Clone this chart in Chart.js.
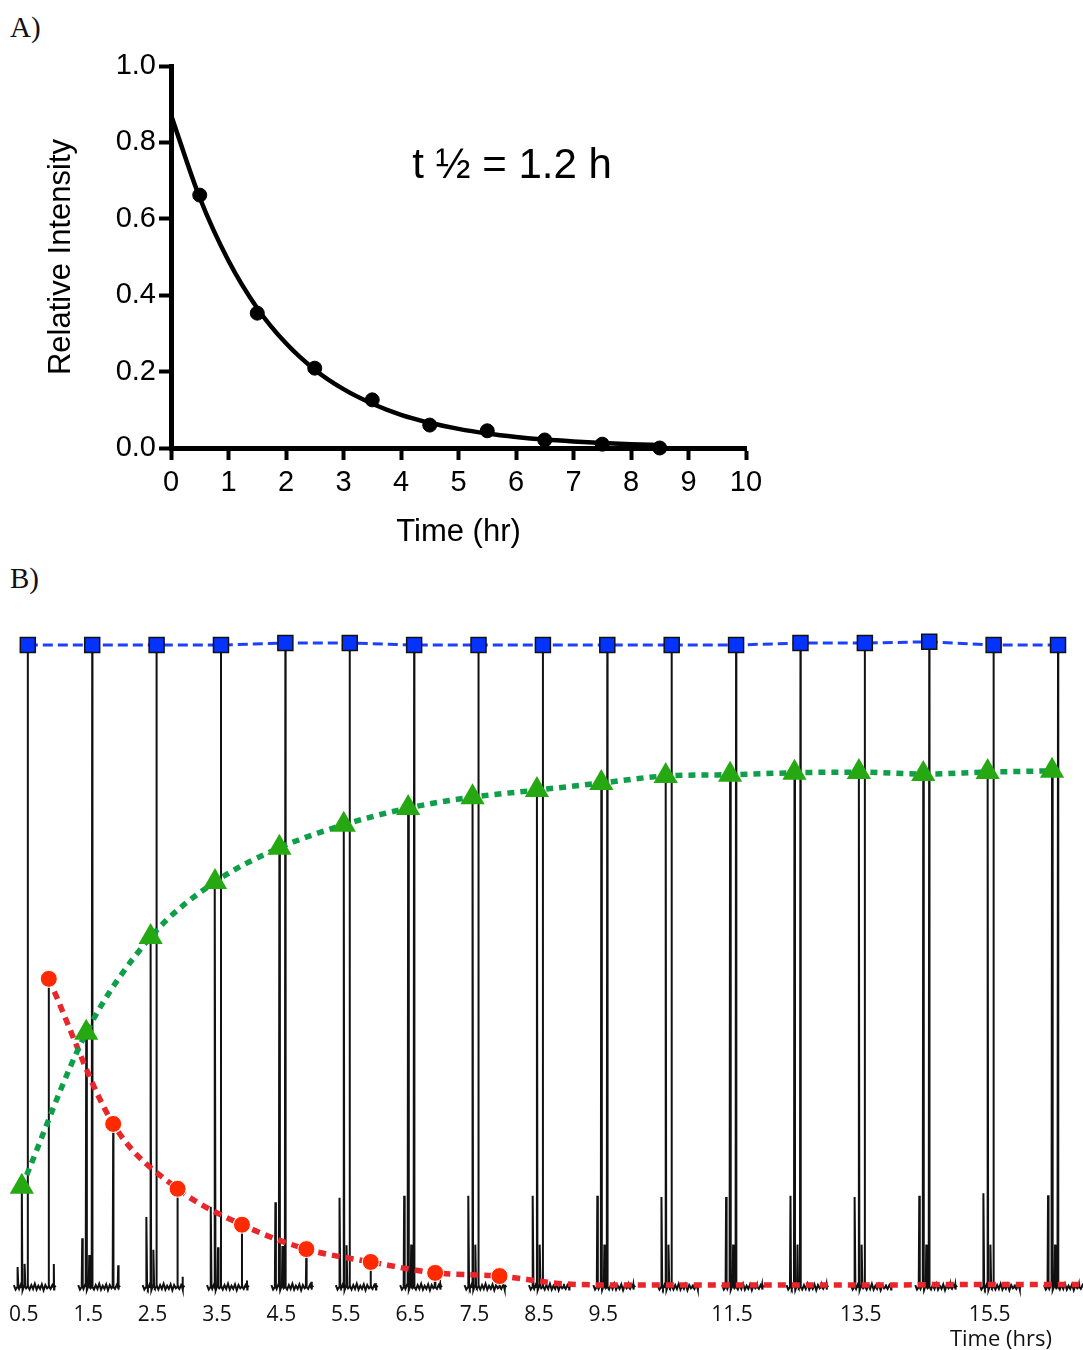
<!DOCTYPE html>
<html>
<head>
<meta charset="utf-8">
<script src="https://cdn.jsdelivr.net/npm/chart.js@4.4.1/dist/chart.umd.min.js"></script>
<style>
  body { margin: 0; background: #fff; width: 1083px; height: 1350px; position: relative; overflow: hidden; }
  .tag { position: absolute; font-family: "Liberation Serif", serif; font-size: 29px; line-height: 1; color: #111; }
  #decayWrap { position: absolute; left: 0; top: 0; width: 800px; height: 570px; }
  #seriesWrap { position: absolute; left: 0; top: 600px; width: 1083px; height: 750px; }
</style>
</head>
<body>
<div class="tag" style="left:10px; top:13px;">A)</div>
<div class="tag" style="left:10px; top:564px;">B)</div>
<div id="decayWrap"><canvas id="decay"></canvas></div>
<div id="seriesWrap"><canvas id="series"></canvas></div>
<script>
// ---- panel A: decay of the starting signal ----
const sampleHours = [0.5, 1.5, 2.5, 3.5, 4.5, 5.5, 6.5, 7.5, 8.5];
const sampleIntensity = [0.662, 0.353, 0.209, 0.126, 0.060, 0.045, 0.021, 0.010, 0.0];
const fitHours = [0, 0.5, 1, 1.5, 2, 2.5, 3, 3.5, 4, 4.5, 5, 5.5, 6, 6.5, 7, 7.5, 8, 8.5];
const fitIntensity = [0.872, 0.655, 0.49, 0.366, 0.274, 0.205, 0.154, 0.116, 0.087, 0.066,
                      0.050, 0.038, 0.029, 0.022, 0.017, 0.013, 0.010, 0.008];

// ---- panel B: stacked spectra, one per time point ----
const groupHours = [0.5, 1.5, 2.5, 3.5, 4.5, 5.5, 6.5, 7.5, 8.5, 9.5, 10.5, 11.5, 12.5, 13.5, 14.5, 15.5, 16.5];
const tickHours = [0.5, 1.5, 2.5, 3.5, 4.5, 5.5, 6.5, 7.5, 8.5, 9.5, 11.5, 13.5, 15.5];
const blueLevel = [1.0, 1.0, 1.0, 1.0, 1.003, 1.003, 1.0, 1.0, 1.0, 1.0, 1.0, 1.0, 1.003, 1.003, 1.005, 1.0, 1.0];
const greenLevel = [0.156, 0.396, 0.545, 0.631, 0.684, 0.720, 0.746, 0.763, 0.774, 0.785, 0.796, 0.798, 0.801, 0.802, 0.799, 0.802, 0.804];
const redLevel = [0.480, 0.254, 0.153, 0.097, 0.059, 0.039, 0.022, 0.017, 0.005, 0.003, 0.003, 0.003, 0.003, 0.003, 0.004, 0.004, 0.004];
const shoulderLevel = [0.031, 0.076, 0.109, 0.125, 0.132, 0.139, 0.142, 0.142, 0.142, 0.142, 0.140, 0.140, 0.142, 0.140, 0.142, 0.146, 0.143];
const minorLevel = [0.036, 0.050, 0.058, 0.062, 0.064, 0.065, 0.066, 0.066, 0.066, 0.066, 0.066, 0.066, 0.066, 0.066, 0.066, 0.066, 0.066];
const tailLevel = [0.036, 0.034, 0.016, 0.010, 0.008, 0.006, 0.005, 0.004, 0.004, 0.004, 0.004, 0.004, 0.004, 0.004, 0.004, 0.004, 0.004];
const baselineNoise = [0.003, -0.004, 0.005, -0.003, 0.004, -0.005, 0.003, -0.002, 0.004, -0.004,
                       0.003, -0.003, 0.005, -0.004, 0.002, -0.003, 0.004, -0.005, 0.003, -0.002,
                       0.004, -0.003, 0.003, -0.004, 0.002];

// peak positions inside each spectrum, in hours from the group time
const OFF = { shoulder: -0.093, green: -0.031, minor: 0.016, blue: 0.062, red: 0.388, tail: 0.466 };
const BASE_FROM = -0.155, BASE_TO = 0.497, SPIKE = 0.008;

const sans = '"Liberation Sans", Arial, sans-serif';

const halfLifeLabel = {
  id: 'halfLifeLabel',
  afterDatasetsDraw(chart) {
    const { ctx, scales: { x, y } } = chart;
    ctx.save();
    ctx.font = '42px ' + sans;
    ctx.fillStyle = '#000';
    ctx.textAlign = 'center';
    ctx.textBaseline = 'alphabetic';
    ctx.fillText('t ½ = 1.2 h', x.getPixelForValue(5.93), y.getPixelForValue(0.707));
    ctx.restore();
  }
};

new Chart(document.getElementById('decay'), {
  type: 'scatter',
  data: {
    datasets: [
      {
        type: 'line',
        data: fitHours.map((h, i) => ({ x: h, y: fitIntensity[i] })),
        borderColor: '#000',
        borderWidth: 4.5,
        pointRadius: 0,
        cubicInterpolationMode: 'monotone',
        clip: false
      },
      {
        data: sampleHours.map((h, i) => ({ x: h, y: sampleIntensity[i] })),
        backgroundColor: '#000',
        borderColor: '#000',
        pointRadius: 7,
        showLine: false,
        clip: false
      }
    ]
  },
  options: {
    responsive: true,
    maintainAspectRatio: false,
    animation: false,
    events: [],
    layout: { autoPadding: false, padding: { top: 66, right: 54, left: 0, bottom: 0 } },
    plugins: { legend: { display: false }, tooltip: { enabled: false } },
    scales: {
      x: {
        type: 'linear', min: 0, max: 10,
        afterFit: s => { s.height = 122; },
        ticks: { stepSize: 1, color: '#000', font: { family: sans, size: 29 }, padding: 6, maxRotation: 0 },
        grid: { drawOnChartArea: false, drawTicks: true, tickLength: 12, tickWidth: 4, tickColor: '#000' },
        border: { display: true, color: '#000', width: 5 },
        title: { display: true, text: 'Time (hr)', color: '#000', font: { family: sans, size: 31 }, padding: { top: 0, bottom: 19 } }
      },
      y: {
        min: 0, max: 1,
        afterFit: s => { s.width = 171; },
        ticks: { stepSize: 0.2, color: '#000', font: { family: sans, size: 29 }, padding: 3, callback: v => v.toFixed(1) },
        grid: { drawOnChartArea: false, drawTicks: true, tickLength: 12, tickWidth: 4, tickColor: '#000' },
        border: { display: true, color: '#000', width: 5 },
        title: { display: true, text: 'Relative Intensity', color: '#000', font: { family: sans, size: 31 }, padding: { top: 43, bottom: 0 } }
      }
    }
  },
  plugins: [halfLifeLabel]
});

// one trace per time point: noisy baseline with narrow spikes
const spectra = groupHours.map((t, i) => {
  const peaks = [
    [t + OFF.shoulder, shoulderLevel[i]],
    [t + OFF.green, greenLevel[i]],
    [t + OFF.minor, minorLevel[i]],
    [t + OFF.blue, blueLevel[i]],
    [t + OFF.red, redLevel[i]],
    [t + OFF.tail, tailLevel[i]]
  ];
  const pts = baselineNoise.map((n, k) => ({
    x: t + BASE_FROM + k * (BASE_TO - BASE_FROM) / (baselineNoise.length - 1),
    y: n
  }));
  peaks.forEach(([x, h]) => {
    pts.push({ x: x - SPIKE, y: 0 }, { x: x, y: h }, { x: x + SPIKE, y: 0 });
  });
  pts.sort((a, b) => a.x - b.x);
  return {
    type: 'line',
    data: pts,
    borderColor: '#111',
    borderWidth: 2,
    pointRadius: 0,
    tension: 0,
    order: 5,
    clip: false
  };
});

const timeTitle = {
  id: 'timeTitle',
  afterDraw(chart) {
    const { ctx } = chart;
    ctx.save();
    ctx.font = '22px "Open Sans", sans-serif';
    ctx.fillStyle = '#111';
    ctx.textAlign = 'right';
    ctx.textBaseline = 'middle';
    ctx.fillText('Time (hrs)', chart.width - 31, 740);
    ctx.restore();
  }
};

new Chart(document.getElementById('series'), {
  type: 'line',
  data: {
    datasets: [
      {
        data: groupHours.map((t, i) => ({ x: t + OFF.blue, y: blueLevel[i] })),
        borderColor: '#1f3fff',
        borderWidth: 3,
        borderDash: [10, 5],
        pointStyle: 'rect',
        pointRadius: 10.6,
        pointBackgroundColor: '#0433ff',
        pointBorderColor: '#111',
        pointBorderWidth: 1.5,
        order: 1,
        clip: false
      },
      {
        data: groupHours.map((t, i) => ({ x: t + OFF.green, y: greenLevel[i] })),
        borderColor: '#0f9e4a',
        borderWidth: 5.5,
        borderDash: [7, 6],
        cubicInterpolationMode: 'monotone',
        pointStyle: 'triangle',
        pointRadius: 14,
        pointBackgroundColor: '#26a813',
        pointBorderColor: '#26a813',
        pointBorderWidth: 0,
        order: 2,
        clip: false
      },
      {
        data: groupHours.map((t, i) => ({ x: t + OFF.red, y: redLevel[i] })),
        borderColor: '#e8262c',
        borderWidth: 5.5,
        borderDash: [8, 6],
        cubicInterpolationMode: 'monotone',
        pointStyle: 'circle',
        pointRadius: c => (c.dataIndex < 8 ? 8.5 : 0),
        pointBackgroundColor: '#ff2a00',
        pointBorderColor: '#fff',
        pointBorderWidth: 1,
        order: 3,
        clip: false
      },
      ...spectra
    ]
  },
  options: {
    responsive: true,
    maintainAspectRatio: false,
    animation: false,
    events: [],
    layout: { autoPadding: false, padding: { top: 45, right: 0, left: 0, bottom: 0 } },
    plugins: { legend: { display: false }, tooltip: { enabled: false } },
    scales: {
      x: {
        type: 'linear', min: 0.13, max: 16.95,
        afterBuildTicks: s => { s.ticks = tickHours.map(v => ({ value: v })); },
        afterFit: s => { s.height = 63; s.paddingLeft = 0; s.paddingRight = 0; },
        ticks: { autoSkip: false, maxRotation: 0, padding: 15, color: '#111',
                 font: { family: '"Open Sans", sans-serif', size: 21 }, callback: v => v.toFixed(1) },
        grid: { display: false, drawTicks: false },
        border: { display: false }
      },
      y: { display: false, min: 0, max: 1 }
    }
  },
  plugins: [timeTitle]
});
</script>
</body>
</html>
